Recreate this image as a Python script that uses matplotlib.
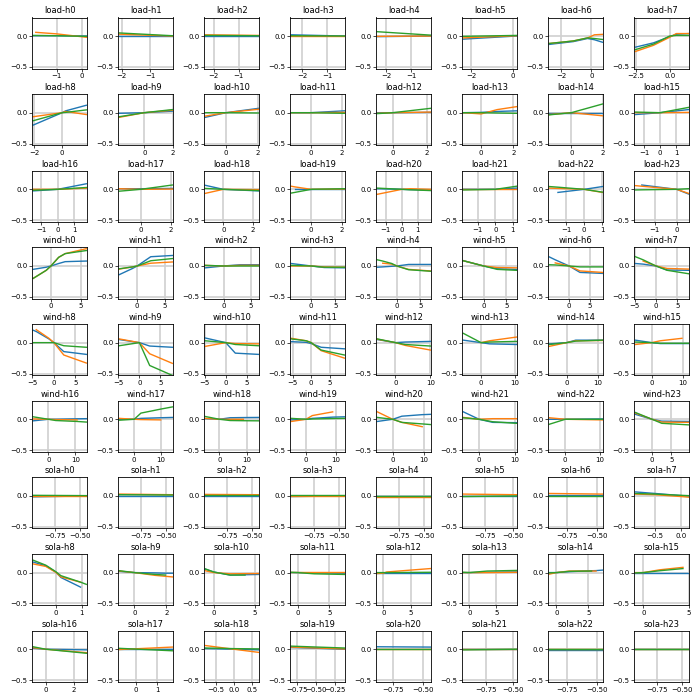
import numpy as np
import matplotlib
matplotlib.use('Agg')
import matplotlib.pyplot as plt
from matplotlib.ticker import MaxNLocator

n = np.nan

features = ['load', 'wind', 'sola']
hours = list(range(24))

# x knots of each panel (load-h0 ... sola-h23)
xs = [
    # load h0-h7
    [-1.93, -1.83, -1.0, 0.17], [-2.09, -0.21], [-2.33, -0.22], [-2.44, -0.31],
    [-2.35, -0.22], [-2.38, 0.16], [-2.78, -1.2, -0.25, 0.2, 0.73], [-2.55, -1.2, 0.0, 0.5, 1.4],
    # load h8-h15
    [-2.05, 0, 0.25, 1.71], [-1.74, 0, 1.95], [-1.3, 0, 2.04], [-1.23, 0, 2.17],
    [-0.9, 0, 2.2], [-1.1, 0, 1.0, 2.19], [-1.38, 0, 1.96], [-1.53, 0, 1.75],
    # load h16-h23
    [-1.47, 0, 1.72], [-1.44, 0, 2.11], [-1.22, 0, 2.38], [-1.3, -1.08, 0, 2.17],
    [-1.52, 0, 0.5, 1.77], [-1.83, 0, 1.2], [-1.91, -1.44, 0, 1.0], [-1.88, -1.59, 0, 0.53],
    # wind h0-h7
    [-2.98, -0.79, 0, 1.3, 2.4, 5.96], [-3.25, -0.84, 0, 2.47, 6.39], [-3.3, 0, 3.0, 6.3],
    [-4.1, 0, 2.7, 6.85], [-4.14, -3.0, -1.07, 0, 2.5, 7.14], [-4.46, 0, 3.0, 7.2],
    [-4.7, -3.3, 0, 2.6, 7.95], [-4.8, -3.0, 0, 2.6, 7.56],
    # wind h8-h15
    [-4.8, -4.1, -1.15, 0, 2.3, 7.54], [-4.8, 0, 2.46, 7.86], [-4.85, 0, 2.25, 7.7],
    [-5.36, -1.34, 0, 2.68, 8.93], [-5.2, 0, 2.8, 10.0], [-5.2, 0, 2.5, 10.4],
    [-5.5, 0, 2.9, 11.4], [-5.2, 0, 2.8, 9.8, 11.9],
    # wind h16-h23
    [-5.6, 0, 2.7, 10.6, 14.0], [-5.56, 0, 2.5, 9.9, 14.2], [-5.2, 0, 3.9, 8.8, 14.3],
    [-4.9, 0, 2.1, 8.9, 12.8], [-4.9, 0, 2.9, 9.4, 12.0], [-4.4, 0, 3.8, 10.4],
    [-4.6, 0, 10.8], [-4.3, 0, 2.5, 9.4],
    # sola h0-h7
    [-0.967, -0.44], [-0.97, -0.44], [-0.97, -0.44], [-0.97, -0.45],
    [-0.97, -0.44], [-0.95, -0.466], [-0.9, -0.45], [-0.88, -0.5, 0.0, 0.14],
    # sola h8-h15
    [-0.86, -0.38, 0.0, 0.2, 0.95, 1.17], [-0.95, 0, 1.3, 1.95, 2.38], [-1.0, 0, 2.0, 3.8, 5.4],
    [-1.05, 0, 2.6, 7.4], [-1.1, 0, 0.6, 8.5], [-1.1, 0, 3.3, 8.7],
    [-1.1, 0, 2.0, 5.5, 6.2, 7.2], [-0.87, 0, 1.8, 4.35, 4.95],
    # sola h16-h23
    [-0.87, 0, 2.85], [-0.79, 1.71], [-0.78, 0.0, 0.67], [-0.83, -0.13],
    [-0.88, -0.44], [-0.96, -0.47], [-0.9, -0.45], [-0.97, -0.43],
]

blue = [
    [0.005, 0.005, 0.005, 0.0], [0.0, 0.0], [0.0, 0.0], [0.02, 0.0],
    [-0.01, 0.0], [-0.05, 0.0], [-0.135, -0.09, -0.04, -0.06, -0.1], [-0.18, -0.11, -0.01, 0.03, 0.04],
    [-0.2, 0.0, 0.03, 0.12], [-0.01, 0.0, 0.025], [-0.075, 0, 0.07], [0.0, 0.0, 0.03],
    [0.0, 0.0, 0.005], [0.0, 0.005, 0.02, 0.03], [0.0, 0.0, 0.0], [-0.03, 0.0, 0.05],
    [-0.025, 0, 0.09], [0.01, 0.01, 0.015], [0.065, 0, -0.025], [n, 0.0, 0.0, 0.0],
    [0.01, 0, -0.005, -0.01], [0.0, 0.0, 0.02], [n, -0.05, 0.0, 0.045], [n, 0.07, 0.0, -0.075],
    [-0.054, -0.02, 0.0, 0.04, 0.07, 0.08], [-0.14, -0.04, 0, 0.15, 0.17], [-0.03, 0, 0.02, 0.02],
    [0.04, 0, -0.025, -0.03], [-0.02, -0.015, -0.005, 0, 0.025, 0.025], [0.085, 0, -0.045, -0.055],
    [0.146, 0.1, 0, -0.104, -0.12], [0.04, 0.03, 0, -0.065, -0.07],
    [0.2, 0.18, 0.06, 0.0, -0.145, -0.19], [0.05, 0, -0.055, -0.075], [0.075, 0, -0.17, -0.19],
    [0.016, 0.005, -0.015, -0.075, -0.1], [0.05, 0, 0.01, 0.02], [0.04, 0, -0.02, -0.03],
    [-0.02, 0, 0.04, 0.04], [0.04, 0, -0.015, -0.015, -0.015],
    [-0.025, 0, 0.0, 0.008, 0.01], [0.0, 0.0, 0.015, 0.025, 0.03], [0.01, 0, 0.025, 0.028, 0.03],
    [-0.01, 0, 0.015, 0.035, 0.04], [-0.035, 0, 0.05, 0.075, 0.08], [0.12, 0, -0.05, -0.055],
    [0.0, 0.0, 0.005], [0.08, 0, -0.03, -0.035],
    [-0.015, 0.0], [0.005, 0.005], [0.005, 0.005], [-0.01, 0.0],
    [0.0, 0.0], [0.0, 0.0], [0.02, 0.02], [0.065, 0.04, 0.005, 0.0],
    [0.17, 0.11, 0.01, -0.08, -0.235, n], [0.02, 0, -0.005, -0.01, -0.01], [0.055, 0.01, -0.04, -0.035, -0.03],
    [0.0, 0.0, -0.005, -0.01], [0.0, 0.0, 0.0, 0.0], [0.0, 0.0, 0.005, 0.01],
    [0, 0, 0.015, 0.03, 0.032, 0.04], [0, 0, 0, 0, 0],
    [0.015, 0, -0.01], [0.0, 0.0], [0.01, 0.0, -0.01], [0.03, 0.0],
    [0.04, 0.035], [0.0, 0.0], [-0.01, -0.01], [0.0, 0.0],
]

orange = [
    [n, 0.06, 0.035, -0.02], [0.03, 0.0], [0.02, 0.01], [0.0, 0.0],
    [-0.005, 0.0], [-0.03, 0.005], [-0.12, -0.08, -0.03, 0.02, 0.027], [-0.25, -0.15, -0.02, 0.04, 0.04],
    [-0.065, 0.0, 0.02, -0.03], [-0.075, 0.0, 0.04], [-0.055, 0, 0.055], [0.0, 0.0, 0.005],
    [-0.01, 0.0, 0.01], [0.0, -0.02, 0.05, 0.097], [-0.03, 0.0, -0.05], [0.0, 0.0, 0.005],
    [0.0, 0.0, 0.02], [0.01, 0.0, 0.005], [-0.065, 0, -0.005], [0.05, 0.04, 0.0, 0.005],
    [-0.08, 0.0, 0.01, 0.0], [0.0, 0.0, 0.0], [0.02, 0.015, 0.0, -0.05], [0.06, 0.05, 0.0, -0.065],
    [-0.2, -0.07, 0.0, 0.14, 0.2, 0.28], [-0.05, -0.015, 0, 0.045, 0.065], [0.01, 0, 0.01, 0.01],
    [0.0, 0, -0.015, -0.02], [n, 0.045, 0.03, 0, -0.055, -0.08], [0.085, 0, -0.025, -0.03],
    [n, 0.05, 0, -0.08, -0.104], [n, 0.08, 0, -0.04, -0.05],
    [n, 0.21, 0.07, 0.0, -0.2, -0.33], [0.06, 0, -0.18, -0.335], [-0.06, 0, -0.015, -0.02],
    [0.07, 0.03, 0, -0.13, -0.25], [0.055, 0, -0.045, -0.12], [n, 0.0, 0.03, 0.09],
    [-0.06, 0, 0.03, 0.035], [-0.03, 0, 0.03, 0.07, n],
    [0.005, 0, -0.005, -0.01, n], [0.015, 0.0, -0.005, -0.01, n], [0.015, 0, 0.0, 0.0, n],
    [-0.035, 0, 0.06, 0.12, n], [0.12, 0, -0.05, -0.12, n], [0.03, 0, 0.01, 0.01],
    [0.025, 0, -0.01], [0.1, 0, -0.045, -0.05],
    [0.005, 0.005], [0.03, 0.02], [0.025, 0.02], [0.005, 0.005],
    [-0.01, -0.01], [0.03, 0.02], [0.04, 0.03], [0.03, 0.02, -0.01, -0.02],
    [0.14, 0.1, 0.005, -0.07, -0.155, n], [0.025, 0, -0.045, -0.06, -0.07], [0.03, 0.0, -0.02, -0.017, -0.015],
    [0.01, 0.01, 0.01, 0.01], [-0.015, -0.01, 0.01, 0.065], [0.0, 0.0, 0.0, 0.005],
    [-0.025, 0, 0.025, 0.025, 0.025, n], [0.0, 0.0, 0.045, 0.085, n],
    [0.025, 0, -0.055], [-0.005, 0.035], [0.06, 0.0, -0.05], [0.035, 0.005],
    [0.01, 0.01], [0.005, 0.005], [0.0, 0.0], [0.0, 0.0],
]

green = [
    [0.01, 0.01, 0.005, -0.005], [0.05, 0.005], [0.01, 0.005], [0.005, 0.0],
    [0.07, 0.015], [-0.005, 0.01], [-0.12, -0.08, -0.03, -0.04, -0.055], [-0.22, -0.13, 0.0, 0.01, 0.01],
    [-0.13, 0.0, 0.005, 0.045], [-0.065, 0.0, 0.05], [0.0, 0.0, -0.005], [0.0, 0.0, -0.01],
    [-0.015, 0.0, 0.07], [0.0, 0.0, -0.005, -0.01], [-0.035, 0.0, 0.14], [0.01, 0.0, 0.085],
    [-0.015, 0, 0.03], [-0.03, 0, 0.07], [0.015, 0, -0.02], [-0.06, -0.05, 0.0, 0.01],
    [0.02, 0, -0.007, -0.02], [-0.01, 0.0, 0.05], [0.045, 0.035, 0.0, -0.045], [-0.01, -0.008, 0.0, 0.01],
    [-0.2, -0.07, 0.0, 0.14, 0.2, 0.25], [-0.045, -0.015, 0, 0.085, 0.12], [0.01, 0, 0.0, 0.0],
    [0.01, 0, -0.02, -0.02], [0.1, 0.08, 0.04, 0, -0.06, -0.085], [0.085, 0, -0.055, -0.07],
    [0.02, 0.017, 0, -0.015, -0.015], [0.15, 0.1, 0, -0.07, -0.125],
    [0.0, 0.0, 0.0, 0.0, -0.05, -0.075], [-0.05, 0, -0.37, -0.53], [0.03, 0, -0.03, -0.05],
    [0.06, 0.03, 0, -0.12, -0.2], [0.06, 0, -0.03, -0.055], [0.15, 0, 0.01, 0.02],
    [-0.03, 0, 0.025, 0.04], [0.01, 0, -0.01, -0.01, -0.01],
    [0.04, 0, -0.02, -0.035, -0.045], [-0.015, 0, 0.1, 0.165, 0.2], [0.045, 0, -0.02, -0.023, -0.025],
    [0.015, 0, 0.005, 0.012, 0.015], [0.03, 0, -0.05, -0.075, -0.085], [0.025, 0, -0.04, -0.065],
    [-0.08, 0, 0.0], [0.11, 0, -0.065, -0.09],
    [0.01, 0.005], [0.02, 0.015], [0.01, 0.01], [0.02, 0.02],
    [0.005, 0.005], [-0.01, 0.0], [0.0, 0.0], [0.04, 0.03, 0.01, 0.005],
    [0.2, 0.12, 0.015, -0.05, -0.155, -0.19], [0.03, 0, -0.03, -0.04, n], [0.06, 0.01, -0.04, -0.04, n],
    [0.005, 0.0, -0.02, -0.03], [0.0, 0.0, 0.0, 0.005], [0.005, 0.0, 0.025, 0.035],
    [-0.005, 0, 0.02, 0.025, n, n], [-0.005, 0, 0.03, 0.065, n],
    [0.04, 0, -0.065], [0.015, -0.025], [0.02, 0.01, 0.005], [0.05, 0.02],
    [0.005, 0.005], [-0.01, 0.0], [0.005, 0.005], [0.005, 0.005],
]

titles = [f'{f}-h{h}' for f in features for h in hours]

fig, axes = plt.subplots(9, 8, figsize=(7, 7), dpi=100)
fig.subplots_adjust(left=0.046, right=0.985, bottom=0.026, top=0.975,
                    wspace=0.56, hspace=0.5)

for i, ax in enumerate(axes.flat):
    ax.plot(xs[i], blue[i], color='#1f77b4', lw=1.0)
    ax.plot(xs[i], orange[i], color='#ff7f0e', lw=1.0)
    ax.plot(xs[i], green[i], color='#2ca02c', lw=1.0)
    ax.set_title(titles[i], fontsize=6, pad=3)
    ax.margins(x=0.02)
    ax.set_ylim(-0.527, 0.30)
    ax.set_yticks([-0.5, 0.0])
    ax.xaxis.set_major_locator(MaxNLocator(nbins=2, steps=[1, 2, 2.5, 5, 10]))
    ax.grid(True, color='#d0d0d0', lw=1.2)
    ax.tick_params(labelsize=5, length=2, width=0.5, pad=1.5)
    for s in ax.spines.values():
        s.set_linewidth(0.6)

fig.savefig('out.png', dpi=100)
